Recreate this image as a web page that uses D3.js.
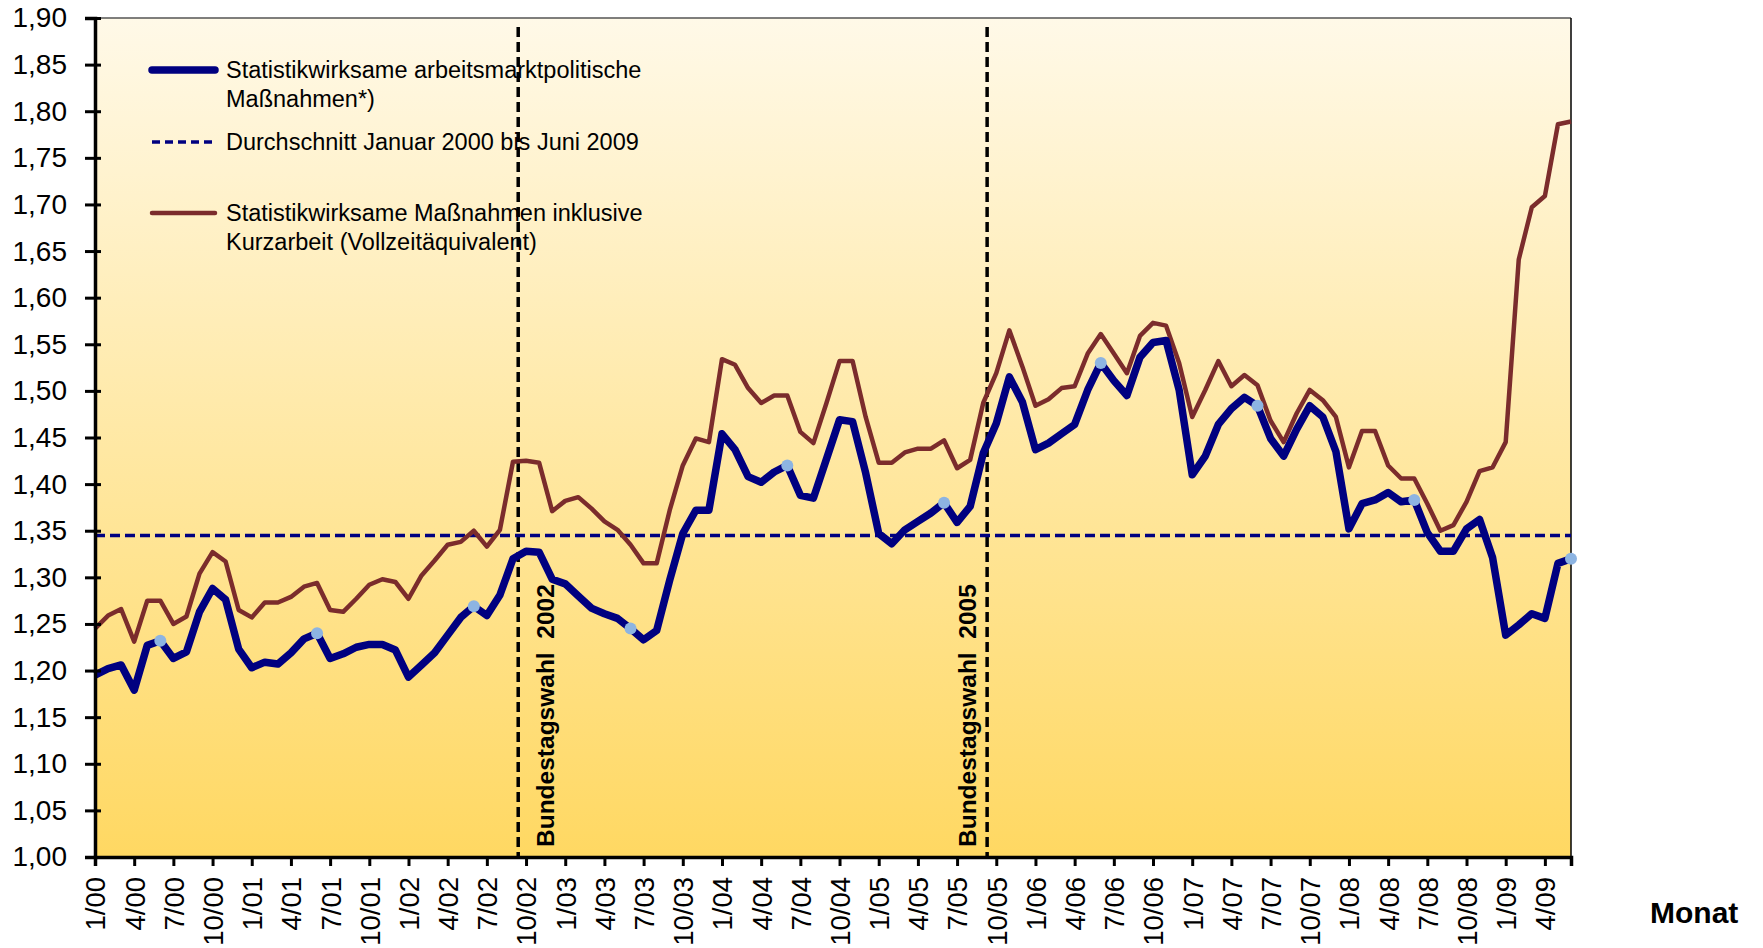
<!DOCTYPE html>
<html>
<head>
<meta charset="utf-8">
<script src="https://cdn.jsdelivr.net/npm/d3@7"></script>
<style>
  body { margin: 0; background: #fff; }
  svg { display: block; font-family: "Liberation Sans", Arial, sans-serif; }
</style>
</head>
<body>
<svg id="chart" width="1763" height="948"></svg>
<script>
// monthly values Jan 2000 .. Jun 2009 (Mio.)
var blueValues = [
  1.195,1.202,1.206,1.179,1.227,1.232,1.213,1.220,1.263,1.288,1.276,1.223,
  1.203,1.209,1.207,1.219,1.234,1.240,1.213,1.218,1.225,1.228,1.228,1.222,
  1.193,1.206,1.219,1.238,1.257,1.269,1.259,1.281,1.320,1.328,1.327,1.298,
  1.293,1.280,1.267,1.261,1.256,1.245,1.233,1.243,1.297,1.347,1.372,1.372,
  1.454,1.437,1.408,1.402,1.413,1.420,1.388,1.385,1.427,1.469,1.467,1.412,
  1.347,1.336,1.351,1.360,1.369,1.380,1.359,1.376,1.433,1.465,1.515,1.488,
  1.437,1.444,1.454,1.464,1.501,1.530,1.511,1.495,1.536,1.552,1.554,1.501,
  1.410,1.430,1.464,1.481,1.493,1.484,1.449,1.430,1.459,1.484,1.472,1.435,
  1.352,1.379,1.383,1.391,1.381,1.383,1.348,1.328,1.328,1.352,1.362,1.321,
  1.238,1.249,1.261,1.256,1.315,1.320
];
var brownValues = [
  1.245,1.259,1.266,1.231,1.275,1.275,1.250,1.258,1.304,1.327,1.317,1.265,
  1.257,1.273,1.273,1.279,1.290,1.294,1.265,1.263,1.277,1.292,1.298,1.295,
  1.277,1.302,1.318,1.335,1.338,1.350,1.333,1.351,1.424,1.425,1.423,1.371,
  1.382,1.386,1.374,1.360,1.351,1.335,1.315,1.315,1.372,1.420,1.449,1.445,
  1.534,1.528,1.503,1.487,1.495,1.495,1.456,1.444,1.487,1.532,1.532,1.472,
  1.423,1.423,1.434,1.438,1.438,1.447,1.417,1.426,1.487,1.519,1.565,1.526,
  1.484,1.491,1.503,1.505,1.540,1.561,1.540,1.519,1.559,1.573,1.570,1.530,
  1.472,1.501,1.532,1.505,1.517,1.506,1.468,1.445,1.476,1.501,1.490,1.472,
  1.418,1.457,1.457,1.420,1.406,1.406,1.379,1.350,1.356,1.381,1.414,1.418,
  1.445,1.641,1.697,1.709,1.786,1.789
];
var averageValue = 1.345;
// June of every year carries a light marker
var markerMonths = [5,17,29,41,53,65,77,89,101,113];
var elections = [{pos: 32.4, label: 'Bundestagswahl  2002', side: 'right'},
                 {pos: 68.3, label: 'Bundestagswahl  2005', side: 'left'}];
var xTickLabels = ['1/00','4/00','7/00','10/00','1/01','4/01','7/01','10/01',
  '1/02','4/02','7/02','10/02','1/03','4/03','7/03','10/03','1/04','4/04','7/04','10/04',
  '1/05','4/05','7/05','10/05','1/06','4/06','7/06','10/06','1/07','4/07','7/07','10/07',
  '1/08','4/08','7/08','10/08','1/09','4/09'];
var legendItems = [
  {lines: ['Statistikwirksame arbeitsmarktpolitische', 'Maßnahmen*)'], color: '#000080', width: 7.5, dash: null},
  {lines: ['Durchschnitt Januar 2000 bis Juni 2009'], color: '#000080', width: 3.5, dash: '8,5'},
  {lines: ['Statistikwirksame Maßnahmen inklusive', 'Kurzarbeit (Vollzeitäquivalent)'], color: '#7B2C2C', width: 4.5, dash: null}
];

var svg = d3.select('#chart');
var plotLeft = 95, plotRight = 1571, plotTop = 18, plotBottom = 857;

var x = d3.scaleLinear().domain([0, blueValues.length - 1]).range([plotLeft, plotRight]);
var y = d3.scaleLinear().domain([1.0, 1.9]).range([plotBottom, plotTop]);
var de = d3.formatLocale({decimal: ',', thousands: '.', grouping: [3], currency: ['', '€']});

// background gradient
var grad = svg.append('defs').append('linearGradient')
  .attr('id', 'bg').attr('x1', 0).attr('y1', 0).attr('x2', 0).attr('y2', 1);
grad.append('stop').attr('offset', '0%').attr('stop-color', '#FFF9E8');
grad.append('stop').attr('offset', '100%').attr('stop-color', '#FFD862');

svg.append('rect')
  .attr('x', plotLeft).attr('y', plotTop)
  .attr('width', plotRight - plotLeft).attr('height', plotBottom - plotTop)
  .style('fill', 'url(#bg)');

// top and right frame
svg.append('line').attr('x1', plotLeft).attr('x2', plotRight).attr('y1', plotTop).attr('y2', plotTop)
  .style('stroke', '#555').style('stroke-width', 1.5);
svg.append('line').attr('x1', plotRight).attr('x2', plotRight).attr('y1', plotTop).attr('y2', plotBottom)
  .style('stroke', '#000').style('stroke-width', 1.5);

// election markers
elections.forEach(function(e){
  var ex = x(e.pos);
  svg.append('line')
    .attr('x1', ex).attr('x2', ex).attr('y1', plotTop + 9).attr('y2', plotBottom)
    .style('stroke', '#000').style('stroke-width', 3.5).style('stroke-dasharray', '10,5');
  var tx = e.side === 'right' ? ex + 36 : ex - 11;
  svg.append('text')
    .attr('transform', 'translate(' + tx + ',' + (plotBottom - 10) + ') rotate(-90)')
    .attr('xml:space', 'preserve')
    .style('white-space', 'pre')
    .style('font-size', '24.5px').style('font-weight', 'bold')
    .text(e.label);
});

// average line
svg.append('line')
  .attr('x1', plotLeft).attr('x2', plotRight)
  .attr('y1', y(averageValue)).attr('y2', y(averageValue))
  .style('stroke', '#000080').style('stroke-width', 3.5).style('stroke-dasharray', '10,5');

var line = d3.line()
  .x(function(d, i){ return x(i); })
  .y(function(d){ return y(d); });

svg.append('path').datum(brownValues)
  .attr('d', line)
  .style('fill', 'none').style('stroke', '#7B2C2C').style('stroke-width', 4.5)
  .style('stroke-linejoin', 'round');

svg.append('path').datum(blueValues)
  .attr('d', line)
  .style('fill', 'none').style('stroke', '#000080').style('stroke-width', 7.5)
  .style('stroke-linejoin', 'round');

svg.selectAll('circle.mark').data(markerMonths).enter().append('circle')
  .attr('class', 'mark')
  .attr('cx', function(i){ return x(i); })
  .attr('cy', function(i){ return y(blueValues[i]); })
  .attr('r', 6)
  .style('fill', '#8DB4E2');

// y axis
var yAxis = svg.append('g')
  .attr('transform', 'translate(' + plotLeft + ',0)')
  .call(d3.axisLeft(y).tickValues(d3.range(19).map(function(i){ return 1 + i * 0.05; }))
    .tickFormat(de.format('.2f')).tickSize(10).tickPadding(18));
yAxis.select('.domain').style('stroke', '#000').style('stroke-width', 3.5);
yAxis.selectAll('.tick line').attr('x1', 6).attr('x2', -10).style('stroke', '#000').style('stroke-width', 3);
yAxis.selectAll('.tick text')
  .style('font-size', '28px').style('fill', '#000')
  .style('font-family', '"Liberation Sans", Arial, sans-serif');

// x axis
var tickIdx = xTickLabels.map(function(d, i){ return i * 3; });
var xAxis = svg.append('g')
  .attr('transform', 'translate(0,' + plotBottom + ')')
  .call(d3.axisBottom(x).tickValues(tickIdx)
    .tickFormat(function(d, i){ return xTickLabels[i]; }).tickSize(9));
xAxis.select('.domain').style('stroke', '#000').style('stroke-width', 3.5);
xAxis.selectAll('.tick line').style('stroke', '#000').style('stroke-width', 3);
xAxis.selectAll('.tick text')
  .attr('transform', 'rotate(-90)')
  .attr('x', -20).attr('y', 0).attr('dy', '0.36em')
  .style('text-anchor', 'end')
  .style('font-size', '27.5px').style('fill', '#000')
  .style('font-family', '"Liberation Sans", Arial, sans-serif');

svg.append('text')
  .attr('x', 1650).attr('y', 923)
  .style('font-size', '30px').style('font-weight', 'bold')
  .text('Monat');

// legend
var legendY = [70, 142, 213];
legendItems.forEach(function(item, k){
  var g = svg.append('g').attr('transform', 'translate(0,' + legendY[k] + ')');
  g.append('line')
    .attr('x1', 152).attr('x2', 215).attr('y1', 0).attr('y2', 0)
    .style('stroke', item.color).style('stroke-width', item.width)
    .style('stroke-linecap', item.dash ? 'butt' : 'round')
    .style('stroke-dasharray', item.dash);
  item.lines.forEach(function(t, j){
    g.append('text')
      .attr('x', 226).attr('y', 8 + j * 29)
      .style('font-size', '23.5px').style('fill', '#000')
      .text(t);
  });
});
</script>
</body>
</html>
